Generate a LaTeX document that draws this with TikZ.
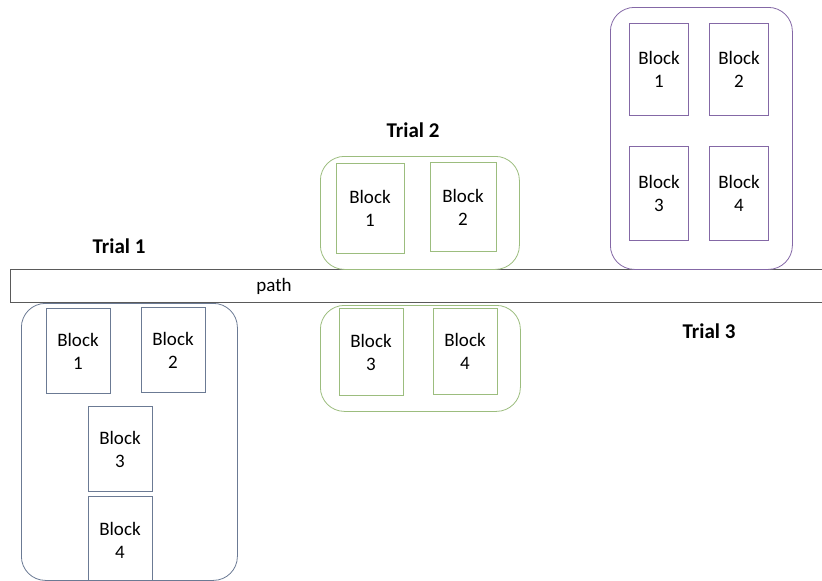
\documentclass[tikz,border=0pt]{standalone}
\usepackage{fontspec}
\setmainfont{Carlito}
\usepackage{xcolor}
\usepackage{tikz}
\usetikzlibrary{positioning}

\definecolor{trialblue}{HTML}{6B7A94}
\definecolor{trialgreen}{HTML}{9CBD7E}
\definecolor{trialpurple}{HTML}{8468A6}
\definecolor{pathgray}{HTML}{5A5A5A}

\begin{document}
\begin{tikzpicture}[
    x=1pt, y=-1pt,
    block/.style={rectangle, draw, line width=0.8pt, minimum width=64pt, minimum height=85pt,
        align=center, font=\fontsize{19}{23}\selectfont, inner sep=0pt},
    group/.style={rectangle, draw, rounded corners=24pt, line width=0.8pt, fill=white, inner sep=0pt},
    trial/.style={font=\fontsize{21}{24}\selectfont\bfseries}
]
\useasboundingbox (0,0) rectangle (822,581);

% the path
\node[rectangle, draw=pathgray, line width=0.8pt, minimum width=820pt, minimum height=33pt,
    anchor=north west, inner sep=0pt] (path) at (10,269) {};
\node[font=\fontsize{19}{22}\selectfont] (pathlbl) at (274,286) {path};

% Trial 1
\node[group, draw=trialblue, minimum width=216pt, minimum height=277pt, anchor=north west] (g1) at (21,303) {};
\node[trial] (t1) at (119,246) {Trial 1};
\node[block, draw=trialblue] (a1) at (78,351) {Block\\1};
\node[block, draw=trialblue] (a2) at (173,350) {Block\\2};
\node[block, draw=trialblue] (a3) at (120,449) {Block\\3};
\node[block, draw=trialblue, minimum height=88pt] (a4) at (120,540) {Block\\4};

% Trial 2
\node[group, draw=trialgreen, minimum width=199pt, minimum height=113pt, anchor=north west] (g2a) at (320,156) {};
\node[group, draw=trialgreen, minimum width=200pt, minimum height=106pt, anchor=north west] (g2b) at (320,305) {};
\node[trial] (t2) at (413,130) {Trial 2};
\node[block, draw=trialgreen, minimum width=68pt, minimum height=90pt] (b1) at (370,208) {Block\\1};
\node[block, draw=trialgreen, minimum width=66pt, minimum height=89pt] (b2) at (463,207) {Block\\2};
\node[block, draw=trialgreen, minimum height=87pt] (b3) at (371,352) {Block\\3};
\node[block, draw=trialgreen, minimum height=86pt] (b4) at (465,351) {Block\\4};

% Trial 3
\node[group, draw=trialpurple, minimum width=182pt, minimum height=262pt, anchor=north west] (g3) at (610,7) {};
\node[trial] (t3) at (709,331) {Trial 3};
\node[block, draw=trialpurple, minimum width=59pt, minimum height=92pt] (c1) at (659,69) {Block\\1};
\node[block, draw=trialpurple, minimum width=59pt, minimum height=92pt] (c2) at (739,69) {Block\\2};
\node[block, draw=trialpurple, minimum width=59pt, minimum height=94pt] (c3) at (659,193) {Block\\3};
\node[block, draw=trialpurple, minimum width=59pt, minimum height=94pt] (c4) at (739,193) {Block\\4};

\end{tikzpicture}
\end{document}
